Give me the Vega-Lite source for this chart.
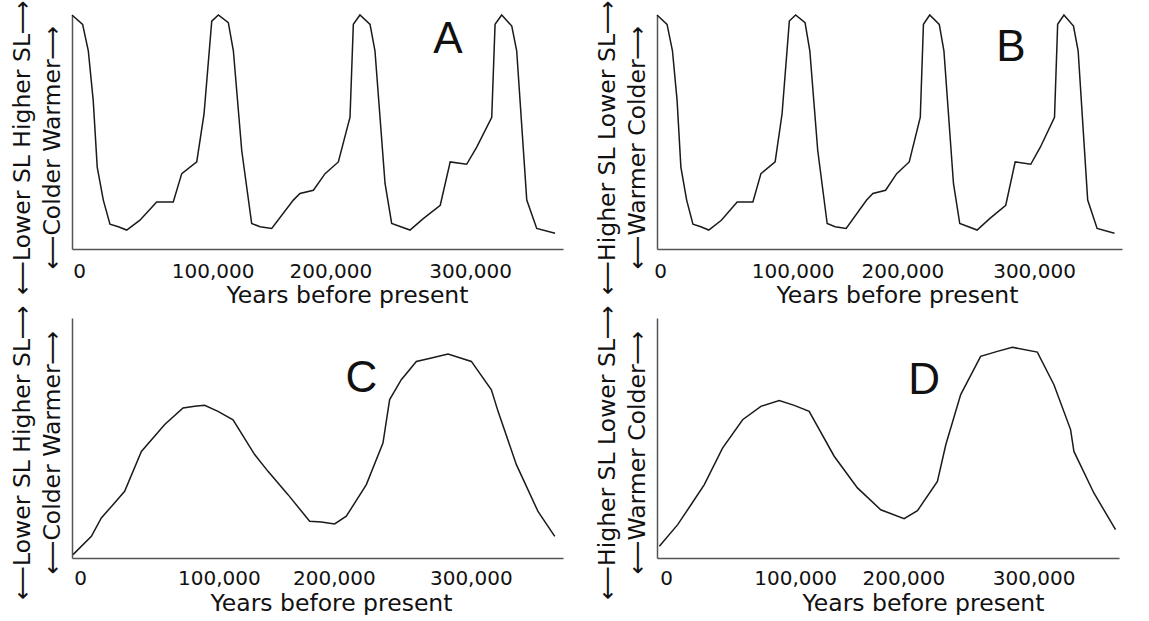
{
  "$schema": "https://vega.github.io/schema/vega-lite/v6.json",
  "background": "white",
  "padding": {"left": 9, "top": -4, "right": 5, "bottom": 0},
  "config": {"view": {"stroke": null}},
  "datasets": {
    "ab": [
      {"year": 0, "value": 100}, {"year": 8000, "value": 96}, {"year": 12300, "value": 84.7}, {"year": 16000, "value": 63.4},
      {"year": 19000, "value": 35}, {"year": 23600, "value": 20.9}, {"year": 28600, "value": 10.6}, {"year": 34900, "value": 9.5},
      {"year": 41200, "value": 8.1}, {"year": 51200, "value": 12.3}, {"year": 63800, "value": 20.1}, {"year": 76300, "value": 20.1},
      {"year": 82700, "value": 32.2}, {"year": 94000, "value": 37.2}, {"year": 99500, "value": 57.7}, {"year": 105300, "value": 97.4},
      {"year": 110300, "value": 100}, {"year": 117800, "value": 96.7}, {"year": 121600, "value": 84.7}, {"year": 127900, "value": 42.1},
      {"year": 135400, "value": 10.9}, {"year": 141700, "value": 9.5}, {"year": 150500, "value": 8.8}, {"year": 166800, "value": 20.9},
      {"year": 171800, "value": 23.7}, {"year": 181900, "value": 25.1}, {"year": 190700, "value": 32.2}, {"year": 200700, "value": 37.2},
      {"year": 209500, "value": 56.3}, {"year": 212000, "value": 96}, {"year": 217000, "value": 100}, {"year": 224600, "value": 96},
      {"year": 228300, "value": 84.7}, {"year": 235900, "value": 28}, {"year": 240900, "value": 10.9}, {"year": 254700, "value": 8.1},
      {"year": 264700, "value": 13}, {"year": 277500, "value": 18.7}, {"year": 285000, "value": 37.2}, {"year": 297400, "value": 36.2},
      {"year": 305000, "value": 43.5}, {"year": 316300, "value": 56.3}, {"year": 318800, "value": 96}, {"year": 323800, "value": 100},
      {"year": 331400, "value": 95.3}, {"year": 335100, "value": 84.7}, {"year": 342700, "value": 20.9}, {"year": 350200, "value": 8.8},
      {"year": 364000, "value": 6.7}
    ],
    "c": [
      {"year": 800, "value": 1.4}, {"year": 14800, "value": 9.0}, {"year": 22400, "value": 16.7}, {"year": 31300, "value": 22.2},
      {"year": 40200, "value": 27.8}, {"year": 53000, "value": 44.4}, {"year": 70800, "value": 55.6}, {"year": 84800, "value": 62.5},
      {"year": 93700, "value": 63.2}, {"year": 101300, "value": 63.6}, {"year": 111500, "value": 61.1}, {"year": 123000, "value": 57.6},
      {"year": 139500, "value": 43.1}, {"year": 149700, "value": 36.1}, {"year": 165000, "value": 26.4}, {"year": 181500, "value": 15.3},
      {"year": 190400, "value": 15.0}, {"year": 200600, "value": 14.2}, {"year": 209500, "value": 17.4}, {"year": 224800, "value": 30.6},
      {"year": 237500, "value": 47.9}, {"year": 242600, "value": 66.0}, {"year": 251500, "value": 74.3}, {"year": 263000, "value": 81.9},
      {"year": 274500, "value": 83.3}, {"year": 287200, "value": 85.0}, {"year": 305000, "value": 81.9}, {"year": 320300, "value": 70.1},
      {"year": 325400, "value": 61.1}, {"year": 339400, "value": 38.9}, {"year": 355900, "value": 19.4}, {"year": 368700, "value": 9.0}
    ],
    "d": [
      {"year": 1900, "value": 4.9}, {"year": 16800, "value": 13.9}, {"year": 27600, "value": 22.2}, {"year": 38400, "value": 30.6},
      {"year": 53200, "value": 45.8}, {"year": 69500, "value": 57.6}, {"year": 84300, "value": 63.2}, {"year": 99200, "value": 65.6},
      {"year": 111400, "value": 63.6}, {"year": 123500, "value": 61.1}, {"year": 143800, "value": 42.4}, {"year": 162700, "value": 29.2},
      {"year": 181600, "value": 20.1}, {"year": 200600, "value": 16.4}, {"year": 211400, "value": 19.7}, {"year": 227600, "value": 31.9},
      {"year": 234400, "value": 47.2}, {"year": 246500, "value": 68.1}, {"year": 262700, "value": 84.0}, {"year": 276300, "value": 86.1},
      {"year": 288400, "value": 87.8}, {"year": 308700, "value": 85.8}, {"year": 322200, "value": 72.2}, {"year": 335700, "value": 53.5},
      {"year": 338400, "value": 44.4}, {"year": 354600, "value": 27.1}, {"year": 372200, "value": 11.8}
    ]
  },
  "bounds": "flush",
  "columns": 2,
  "spacing": {"row": 69, "column": 94},
  "concat": [
    {
      "width": 491, "height": 234,
      "layer": [
        {
          "data": {"name": "ab"},
          "mark": {"type": "line", "color": "#1a1a1a", "strokeWidth": 1.5},
          "encoding": {
            "x": {"field": "year", "type": "quantitative", "scale": {"domain": [0, 370000], "nice": false},
              "axis": {"values": [0, 100000, 200000, 300000], "format": ",.0f", "ticks": false, "grid": false, "domainColor": "#555", "domainWidth": 1.5,
                "labelFont": "DejaVu Sans", "labelFontSize": 20, "labelColor": "#111", "labelPadding": 12, "labelFlush": false,
                "labelOffset": {"expr": "datum.value === 0 ? 7 : (datum.value === 100000 ? 8 : (datum.value === 200000 ? -7 : 0))"},
                "title": "Years before present", "titleFont": "DejaVu Sans", "titleFontSize": 23.5, "titleFontWeight": "normal", "titleColor": "#111", "titlePadding": 2, "titleX": 275}},
            "y": {"field": "value", "type": "quantitative", "scale": {"domain": [0, 100]},
              "axis": {"labels": false, "ticks": false, "grid": false, "domainColor": "#555", "domainWidth": 1.5,
                "title": ["⟵Lower SL  Higher SL⟶", "⟵Colder  Warmer⟶"], "titleFont": "DejaVu Sans", "titleFontSize": 23.5, "titleFontWeight": "normal", "titleColor": "#111", "titlePadding": 8, "titleLineHeight": 30, "titleY": 132}}
          }
        },
        {
          "data": {"values": [{"letter": "A"}]},
          "mark": {"type": "text", "font": "Liberation Sans", "fontSize": 44, "align": "center", "baseline": "middle", "color": "#111"},
          "encoding": {"x": {"datum": 283300, "type": "quantitative"}, "y": {"datum": 89.4, "type": "quantitative"}, "text": {"field": "letter"}}
        }
      ]
    },
    {
      "width": 465, "height": 234,
      "layer": [
        {
          "data": {"name": "ab"},
          "mark": {"type": "line", "color": "#1a1a1a", "strokeWidth": 1.5},
          "encoding": {
            "x": {"field": "year", "type": "quantitative", "scale": {"domain": [0, 370000], "nice": false},
              "axis": {"values": [0, 100000, 200000, 300000], "format": ",.0f", "ticks": false, "grid": false, "domainColor": "#555", "domainWidth": 1.5,
                "labelFont": "DejaVu Sans", "labelFontSize": 20, "labelColor": "#111", "labelPadding": 12, "labelFlush": false,
                "labelOffset": {"expr": "datum.value === 0 ? 3 : (datum.value === 100000 ? 10 : (datum.value === 200000 ? -6 : 0))"},
                "title": "Years before present", "titleFont": "DejaVu Sans", "titleFontSize": 23.5, "titleFontWeight": "normal", "titleColor": "#111", "titlePadding": 2, "titleX": 240}},
            "y": {"field": "value", "type": "quantitative", "scale": {"domain": [0, 100]},
              "axis": {"labels": false, "ticks": false, "grid": false, "domainColor": "#555", "domainWidth": 1.5,
                "title": ["⟵Higher SL  Lower SL⟶", "⟵Warmer  Colder⟶"], "titleFont": "DejaVu Sans", "titleFontSize": 23.5, "titleFontWeight": "normal", "titleColor": "#111", "titlePadding": 8, "titleLineHeight": 30, "titleY": 132}}
          }
        },
        {
          "data": {"values": [{"letter": "B"}]},
          "mark": {"type": "text", "font": "Liberation Sans", "fontSize": 44, "align": "center", "baseline": "middle", "color": "#111"},
          "encoding": {"x": {"datum": 281700, "type": "quantitative"}, "y": {"datum": 86, "type": "quantitative"}, "text": {"field": "letter"}}
        }
      ]
    },
    {
      "width": 491, "height": 240,
      "layer": [
        {
          "data": {"name": "c"},
          "mark": {"type": "line", "color": "#1a1a1a", "strokeWidth": 1.5},
          "encoding": {
            "x": {"field": "year", "type": "quantitative", "scale": {"domain": [0, 375000], "nice": false},
              "axis": {"values": [0, 100000, 200000, 300000], "format": ",.0f", "ticks": false, "grid": false, "domainColor": "#555", "domainWidth": 1.5,
                "labelFont": "DejaVu Sans", "labelFontSize": 20, "labelColor": "#111", "labelPadding": 10, "labelFlush": false,
                "labelOffset": {"expr": "datum.value === 0 ? 8 : (datum.value === 100000 ? 16 : (datum.value === 300000 ? 6 : 0))"},
                "title": "Years before present", "titleFont": "DejaVu Sans", "titleFontSize": 23.5, "titleFontWeight": "normal", "titleColor": "#111", "titlePadding": 3, "titleX": 259}},
            "y": {"field": "value", "type": "quantitative", "scale": {"domain": [0, 100]},
              "axis": {"labels": false, "ticks": false, "grid": false, "domainColor": "#555", "domainWidth": 1.5,
                "title": ["⟵Lower SL  Higher SL⟶", "⟵Colder  Warmer⟶"], "titleFont": "DejaVu Sans", "titleFontSize": 23.5, "titleFontWeight": "normal", "titleColor": "#111", "titlePadding": 8, "titleLineHeight": 30, "titleY": 134}}
          }
        },
        {
          "data": {"values": [{"letter": "C"}]},
          "mark": {"type": "text", "font": "Liberation Sans", "fontSize": 44, "align": "center", "baseline": "middle", "color": "#111"},
          "encoding": {"x": {"datum": 221000, "type": "quantitative"}, "y": {"datum": 74.5, "type": "quantitative"}, "text": {"field": "letter"}}
        }
      ]
    },
    {
      "width": 462, "height": 240,
      "layer": [
        {
          "data": {"name": "d"},
          "mark": {"type": "line", "color": "#1a1a1a", "strokeWidth": 1.5},
          "encoding": {
            "x": {"field": "year", "type": "quantitative", "scale": {"domain": [0, 375000], "nice": false},
              "axis": {"values": [0, 100000, 200000, 300000], "format": ",.0f", "ticks": false, "grid": false, "domainColor": "#555", "domainWidth": 1.5,
                "labelFont": "DejaVu Sans", "labelFontSize": 20, "labelColor": "#111", "labelPadding": 10, "labelFlush": false,
                "labelOffset": {"expr": "datum.value === 0 ? 9 : (datum.value === 100000 ? 15 : (datum.value === 300000 ? 7 : 0))"},
                "title": "Years before present", "titleFont": "DejaVu Sans", "titleFontSize": 23.5, "titleFontWeight": "normal", "titleColor": "#111", "titlePadding": 3, "titleX": 266}},
            "y": {"field": "value", "type": "quantitative", "scale": {"domain": [0, 100]},
              "axis": {"labels": false, "ticks": false, "grid": false, "domainColor": "#555", "domainWidth": 1.5,
                "title": ["⟵Higher SL  Lower SL⟶", "⟵Warmer  Colder⟶"], "titleFont": "DejaVu Sans", "titleFontSize": 23.5, "titleFontWeight": "normal", "titleColor": "#111", "titlePadding": 8, "titleLineHeight": 30, "titleY": 134}}
          }
        },
        {
          "data": {"values": [{"letter": "D"}]},
          "mark": {"type": "text", "font": "Liberation Sans", "fontSize": 44, "align": "center", "baseline": "middle", "color": "#111"},
          "encoding": {"x": {"datum": 216900, "type": "quantitative"}, "y": {"datum": 73.6, "type": "quantitative"}, "text": {"field": "letter"}}
        }
      ]
    }
  ]
}
